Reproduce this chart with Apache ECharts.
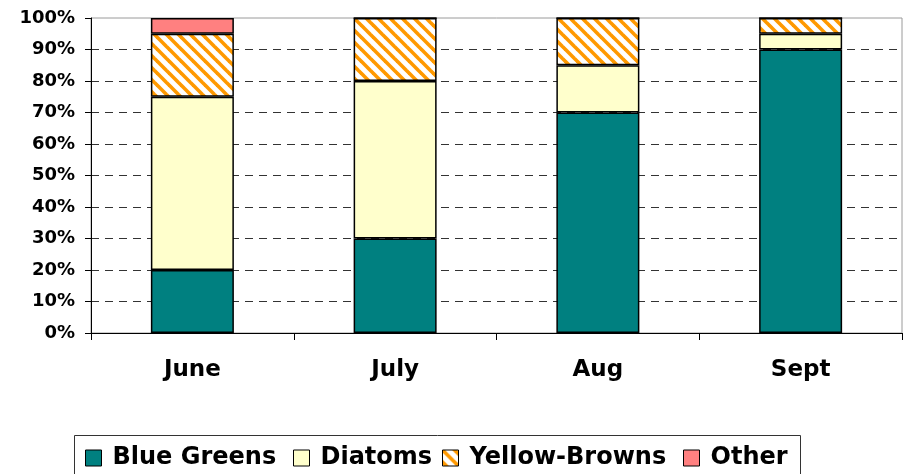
<!DOCTYPE html>
<html>
<head>
<meta charset="utf-8">
<script src="https://cdn.jsdelivr.net/npm/echarts@6/dist/echarts.min.js"></script>
<style>
  html, body { margin: 0; padding: 0; background: #fff; }
  #chart { width: 905px; height: 474px; }
</style>
</head>
<body>
<div id="chart"></div>
<script>
// Monthly phytoplankton composition (percent of total)
const months = ['June', 'July', 'Aug', 'Sept'];
const blueGreens = [20, 30, 70, 90];
const diatoms = [55, 50, 15, 5];
const yellowBrowns = [20, 20, 15, 5];
const other = [5, 0, 0, 0];
const yTicks = [0, 10, 20, 30, 40, 50, 60, 70, 80, 90, 100];
const groups = ['Blue Greens', 'Diatoms', 'Yellow-Browns', 'Other'];

// Orange diagonal hatch on white for the Yellow-Browns group
function hatchPattern() {
  const c = document.createElement('canvas');
  c.width = 12; c.height = 12;
  const ctx = c.getContext('2d');
  ctx.fillStyle = '#ffffff';
  ctx.fillRect(0, 0, 12, 12);
  ctx.strokeStyle = '#ff9900';
  ctx.lineWidth = 3.6;
  ctx.lineCap = 'square';
  for (const off of [-12, 0, 12]) {
    ctx.beginPath();
    ctx.moveTo(off - 2, -2);
    ctx.lineTo(off + 14, 14);
    ctx.stroke();
  }
  return { image: c, repeat: 'repeat' };
}

const FONT = 'DejaVu Sans';
const barStyle = (color) => ({ color: color, borderColor: '#000', borderWidth: 1.5 });

const chart = echarts.init(document.getElementById('chart'), null, { renderer: 'canvas' });

const mkSeries = (name, data, color) => ({
  name: name,
  type: 'bar',
  stack: 'total',
  barWidth: 83,
  data: data,
  itemStyle: barStyle(color),
  emphasis: { disabled: true }
});

// One legend entry per group, each placed along the bottom key box
const legendLefts = [85, 293, 442, 683];
const legends = groups.map((g, i) => ({
  left: legendLefts[i], top: 446,
  padding: 0,
  itemWidth: 16, itemHeight: 16,
  icon: 'rect',
  selectedMode: false,
  textStyle: { fontFamily: FONT, fontWeight: 'bold', fontSize: 24, color: '#000', padding: [0, 0, 0, 6] },
  itemStyle: { borderColor: '#000', borderWidth: 1 },
  data: [g]
}));

// Split lines dark and dashed, except the top one which falls on the plot border
const splitColors = yTicks.map((t, i) => (i === yTicks.length - 1 ? 'rgba(0,0,0,0)' : '#333'));

chart.setOption({
  animation: false,
  backgroundColor: '#fff',
  grid: {
    left: 91, right: 3, top: 18, bottom: 141,
    show: true, borderColor: '#9a9a9a', borderWidth: 1
  },
  legend: legends,
  graphic: [{
    type: 'rect',
    left: 72, top: 433,
    shape: { width: 726, height: 70 },
    style: { fill: 'none', stroke: '#333', lineWidth: 1 },
    silent: true, z: -1
  }],
  xAxis: {
    type: 'category',
    data: months,
    axisLine: { lineStyle: { color: '#000', width: 1 } },
    axisTick: { show: true, length: 7, interval: 0, lineStyle: { color: '#000' } },
    axisLabel: { fontFamily: FONT, fontWeight: 'bold', fontSize: 23, color: '#000', margin: 26 }
  },
  yAxis: {
    type: 'value',
    min: yTicks[0], max: yTicks[yTicks.length - 1], interval: 10,
    axisLine: { show: true, lineStyle: { color: '#000', width: 1 } },
    axisTick: { show: true, length: 6, lineStyle: { color: '#000' } },
    axisLabel: { fontFamily: FONT, fontWeight: 'bold', fontSize: 18, color: '#000', margin: 16, formatter: '{value}%' },
    splitLine: { show: true, lineStyle: { color: splitColors, type: [8, 6], width: 1 } }
  },
  series: [
    mkSeries(groups[0], blueGreens, '#008080'),
    mkSeries(groups[1], diatoms, '#ffffcc'),
    mkSeries(groups[2], yellowBrowns, hatchPattern()),
    mkSeries(groups[3], other, '#ff8080')
  ]
});
</script>
</body>
</html>
